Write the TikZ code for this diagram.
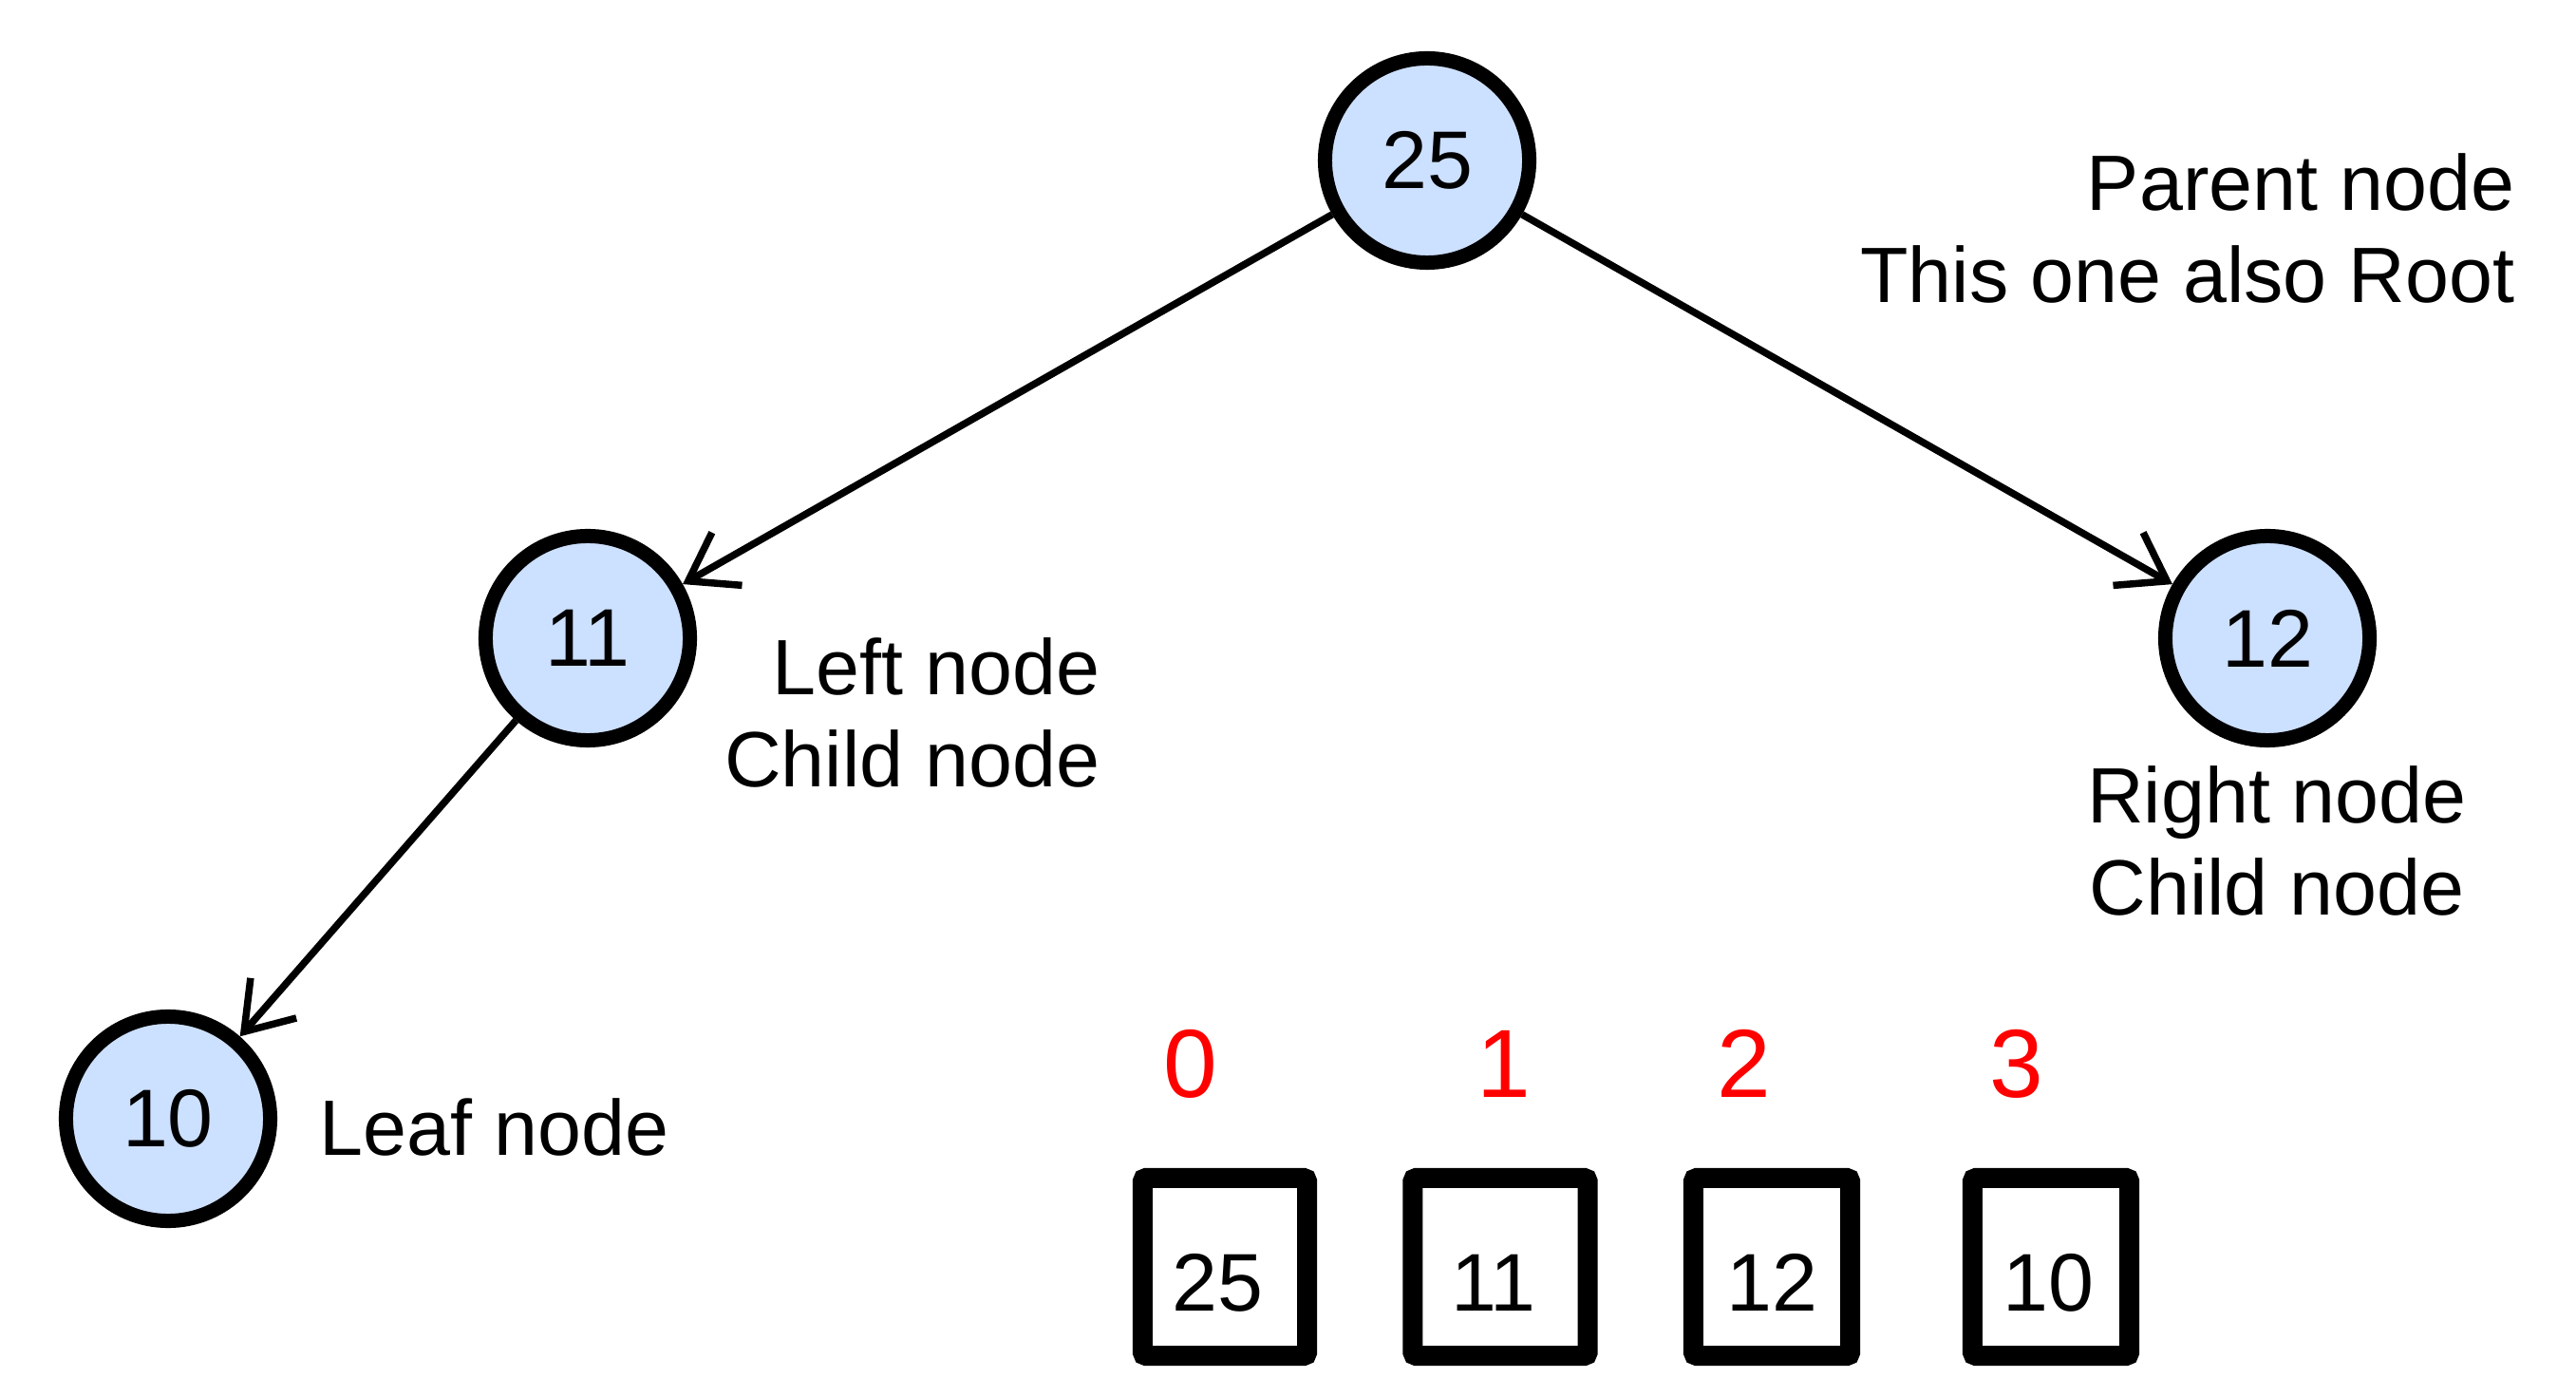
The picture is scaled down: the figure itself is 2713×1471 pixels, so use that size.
\documentclass[tikz,border=0pt]{standalone}
\usepackage{fontspec}
\setmainfont{Liberation Sans}
\usetikzlibrary{positioning,arrows.meta}
\definecolor{nodeblue}{RGB}{204,224,255}
\tikzset{
  vertex/.style={circle,draw,line width=0.15cm,fill=nodeblue,
    minimum size=2.15cm,inner sep=0pt,font=\fontsize{24.5}{28}\selectfont},
  cell/.style={draw,line width=0.21cm,minimum height=1.87cm,inner sep=0pt,
    rounded corners=1pt,text height=0.92cm,text depth=0pt,
    font=\fontsize{24.5}{28}\selectfont},
  idx/.style={text=red,inner sep=0pt,font=\fontsize{29}{34}\selectfont},
  caption/.style={inner sep=0pt,font=\fontsize{23.5}{27.6}\selectfont},
  >={Straight Barb[length=0.47cm,width=0.64cm]},
}

\begin{document}
\begin{tikzpicture}[x=0.01cm,y=-0.01cm,line width=0.075cm]
  \useasboundingbox (0,0) rectangle (2713,1471);

  % tree
  \node[vertex] (root)  at (1503,169)  {25};
  \node[vertex] (left)  at (619,672)   {11};
  \node[vertex] (right) at (2388,672)  {12};
  \node[vertex] (leaf)  at (177,1178)  {10};

  \draw[->] (root) -- (left);
  \draw[->] (root) -- (right);
  \draw[->] (left) -- (leaf);

  % captions
  \node[caption,align=right,anchor=north east] (rootlbl) at (2652,158)
       {Parent node\\This one also Root};
  \node[caption,align=right,anchor=north east] (leftlbl) at (1162,668)
       {Left node\\Child node};
  \node[caption,align=center,anchor=north] (rightlbl) at (2398,803)
       {Right node\\Child node};
  \node[caption,anchor=north west] (leaflbl) at (333,1153) {Leaf node};

  % array
  \node[cell,minimum width=1.73cm] (a0) at (1290,1334) {\hspace{-0.16cm}25};
  \node[cell,minimum width=1.84cm] (a1) at (1580,1334) {\hspace{-0.14cm}11};
  \node[cell,minimum width=1.65cm] (a2) at (1866,1334) {12};
  \node[cell,minimum width=1.65cm] (a3) at (2160,1334) {\hspace{-0.06cm}10};

  \node[idx] (i0) at (1254,1120) {0};
  \node[idx] (i1) at (1584,1120) {1};
  \node[idx] (i2) at (1837,1120) {2};
  \node[idx] (i3) at (2124,1120) {3};
\end{tikzpicture}
\end{document}
